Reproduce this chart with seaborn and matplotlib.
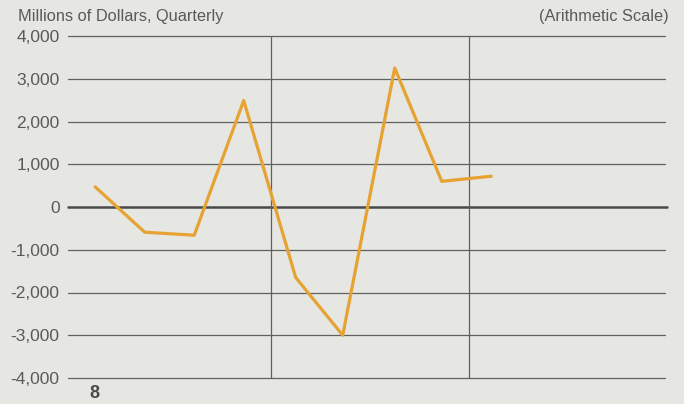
import matplotlib
matplotlib.use("Agg")
from matplotlib import pyplot as plt
import seaborn as sns
import pandas as pd

# quarterly values, millions of dollars
quarters = [0.45, 1.45, 2.45, 3.45, 4.5, 5.45, 6.5, 7.45, 8.45]
values = [470, -590, -660, 2490, -1650, -3000, 3250, 600, 720]
y_ticks = [4000, 3000, 2000, 1000, 0, -1000, -2000, -3000, -4000]
y_labels = ["4,000", "3,000", "2,000", "1,000", "0", "-1,000", "-2,000", "-3,000", "-4,000"]
year_breaks = [4, 8]

bg = "#e6e6e3"
ink = "#5a5a5a"
line_color = "#e6a232"

sns.set_style("white", {"axes.facecolor": bg, "figure.facecolor": bg})
plt.rcParams["font.family"] = ["Liberation Sans", "DejaVu Sans"]

fig = plt.figure(figsize=(6.84, 4.04), dpi=100)
ax = fig.add_axes([68 / 684, 26 / 404, 597 / 684, 342 / 404])

df = pd.DataFrame({"quarter": quarters, "value": values})

for y in y_ticks:
    lw = 1.8 if y == 0 else 0.9
    ax.axhline(y, color="#4a4a4a" if y == 0 else "#606060", lw=lw, zorder=1,
               xmax=1.004 if y == 0 else 1.0, clip_on=False)
for x in year_breaks:
    ax.axvline(x, color="#606060", lw=0.9, zorder=1)

sns.lineplot(data=df, x="quarter", y="value", ax=ax, color=line_color,
             linewidth=2.3, zorder=3)

ax.set_xlim(-0.1, 11.96)
ax.set_ylim(-4000, 4000)
ax.set_yticks(y_ticks)
ax.set_yticklabels(y_labels, color=ink, fontsize=12.5)
ax.tick_params(axis="y", length=0, pad=6)
ax.set_xticks([])
ax.set_xlabel("")
ax.set_ylabel("")
for s in ax.spines.values():
    s.set_visible(False)

fig.text(18 / 684, 1 - 16 / 404, "Millions of Dollars, Quarterly", color=ink,
         fontsize=11.8, va="center", ha="left")
fig.text(669 / 684, 1 - 16 / 404, "(Arithmetic Scale)", color=ink,
         fontsize=11.8, va="center", ha="right")
fig.text(94 / 684, 1 - 393 / 404, "8", color="#4a4a4a", fontsize=13,
         fontweight="bold", va="center", ha="center")

fig.savefig("out.png", dpi=100, facecolor=bg)
